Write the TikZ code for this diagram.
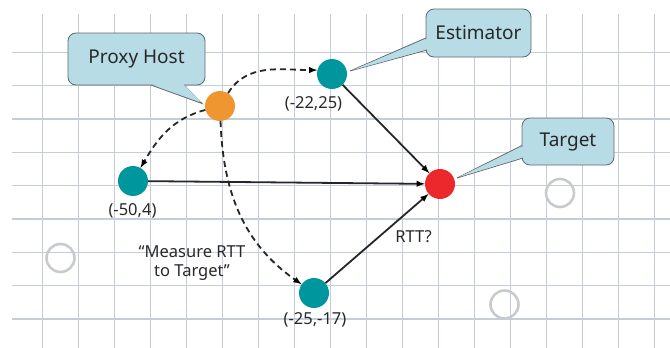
\documentclass[tikz,border=0pt]{standalone}
\usepackage{fontspec}
\setmainfont{Noto Sans}
\usepackage{tikz}
\usetikzlibrary{arrows}
\definecolor{gridblue}{RGB}{196,205,216}
\definecolor{hostorange}{RGB}{240,150,48}
\definecolor{nodeteal}{RGB}{0,150,158}
\definecolor{targetred}{RGB}{236,40,44}
\definecolor{calloutblue}{RGB}{184,220,230}
\definecolor{calloutedge}{RGB}{95,105,110}
\definecolor{ringgray}{RGB}{200,202,206}
\definecolor{textgray}{RGB}{40,40,40}
\tikzstyle{gridline}=[draw=gridblue,
line width=1.4pt]
\tikzstyle{host}=[circle,
minimum size=30pt,
inner sep=0pt,
fill=hostorange]
\tikzstyle{landmark}=[circle,
minimum size=30pt,
inner sep=0pt,
fill=nodeteal]
\tikzstyle{target}=[circle,
minimum size=30pt,
inner sep=0pt,
fill=targetred]
\tikzstyle{ring}=[circle,
minimum size=28pt,
inner sep=0pt,
draw=ringgray,
line width=2.6pt]
\tikzstyle{bubble}=[rectangle,
rounded corners=8pt,
fill=calloutblue,
draw=calloutedge,
line width=0.8pt,
text=textgray,
font=\fontsize{19}{21}\selectfont]
\tikzstyle{tail}=[fill=calloutblue,
draw=calloutedge,
line width=0.8pt,
line join=miter]
\tikzstyle{tailfill}=[fill=calloutblue]
\tikzstyle{coord}=[text=textgray,
font=\fontsize{16.5}{19}\selectfont]
\tikzstyle{probe}=[->,
dash pattern=on 6pt off 4pt,
line width=1.8pt,
draw=black!85]
\tikzstyle{measure}=[->,
line width=1.8pt,
draw=black!85]

\begin{document}
\begin{tikzpicture}[>=latex,x=1pt,y=1pt]
		\useasboundingbox (0,0) rectangle (670,-348);
		
		% The squared paper in the back
		\foreach \i in {0,...,17}
		\draw[gridline] (42.3+36*\i,-14) -- (42.3+36*\i,-348);
		\foreach \j in {0,...,8}
		\draw[gridline] (12,-52.3-33.33*\j) -- (670,-52.3-33.33*\j);
		
		% Empty rings (unused hosts)
		\node (r1) [ring] at (60.5,-258) {};
		\node (r2) [ring] at (560,-193) {};
		\node (r3) [ring] at (504.5,-304.5) {};
		
		% Hosts
		\node (ph)  [host]     at (220,-106) {};
		\node (est) [landmark] at (332,-74)  {};
		\node (lw)  [landmark] at (133,-181) {};
		\node (ls)  [landmark] at (314,-293) {};
		\node (tg)  [target]   at (440,-184) {};
		
		% Coordinates of the landmarks
		\node (est_c) [coord] at (313.5,-104) {(-22,25)};
		\node (lw_c)  [coord] at (132.5,-211) {(-50,4)};
		\node (ls_c)  [coord] at (315,-320)   {(-25,-17)};
		\node (rtt)   [coord] at (413.5,-237) {RTT?};
		\node (ask)   [coord,align=center] at (192,-263)
		{``Measure RTT\\to Target''};
		
		% Requests from the proxy host
		\path[probe]
		(ph) edge[out=58,in=180] (est.165)
		(ph) edge[out=195,in=60] (lw)
		(ph) edge[out=-88,in=145] (ls)
		;
		
		% RTT measurements to the target
		\path[measure]
		(est) edge (tg)
		(lw) edge (tg)
		(ls) edge (tg)
		;
		
		% Callouts: the tail first, then the box, then the tail fill
		% again so that the box border does not cut across it.
		\draw[tail] (148,-84) -- (202,-103.5) -- (183,-84);
		\draw[tail] (427,-37.5) -- (350,-71) -- (427,-50);
		\draw[tail] (523,-145) -- (457,-178) -- (523,-158);
		\node (ph_b) [bubble,minimum width=137pt,minimum height=52pt]
		at (136.5,-59) {Proxy Host};
		\node (est_b) [bubble,minimum width=105pt,minimum height=48pt]
		at (478.5,-33) {Estimator};
		\node (tg_b) [bubble,minimum width=92pt,minimum height=47pt]
		at (568,-141.5) {Target};
		\fill[tailfill] (149,-83) -- (201,-102) -- (182,-83) -- cycle;
		\fill[tailfill] (428,-38.5) -- (352,-70.3) -- (428,-49) -- cycle;
		\fill[tailfill] (524,-146) -- (459,-177) -- (524,-157) -- cycle;
\end{tikzpicture}
\end{document}
